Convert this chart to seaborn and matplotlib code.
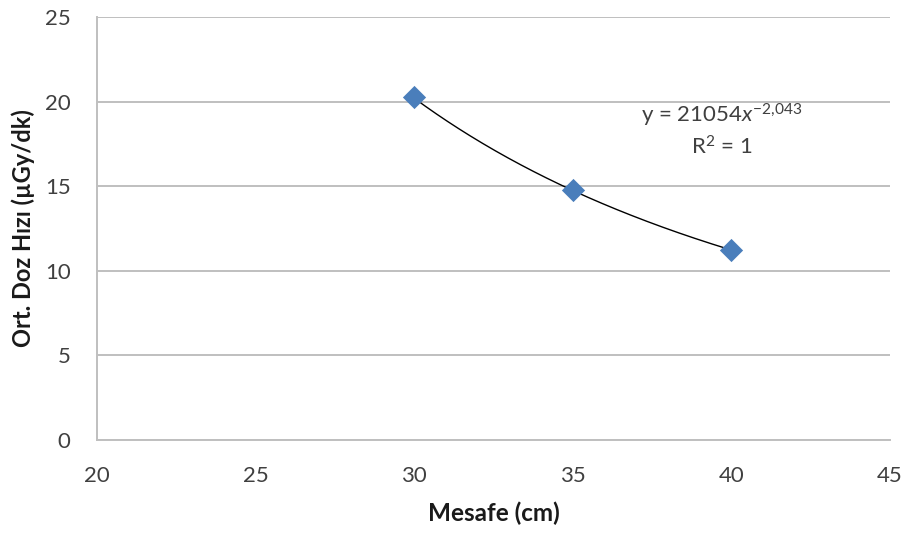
import numpy as np
import pandas as pd
import matplotlib
matplotlib.use("Agg")
import matplotlib.pyplot as plt
import seaborn as sns

# Measured dose rate versus distance
distance_cm = [30, 35, 40]
dose_rate = [20.25, 14.8, 11.25]

# Power-law trend: y = a * x^b
fit_a = 21054
fit_b = -2.043

x_ticks = [20, 25, 30, 35, 40, 45]
y_ticks = [0, 5, 10, 15, 20, 25]

sns.set_theme(style="white")
plt.rcParams["font.family"] = ["Lato", "DejaVu Sans"]
plt.rcParams["mathtext.fontset"] = "custom"
plt.rcParams["mathtext.rm"] = "Lato"
plt.rcParams["mathtext.it"] = "Lato:italic"

fig = plt.figure(figsize=(9.07, 5.37), dpi=100)
ax = fig.add_axes([0.107, 0.181, 0.874, 0.787])

df = pd.DataFrame({"Mesafe": distance_cm, "Doz": dose_rate})

xs = np.linspace(min(distance_cm), max(distance_cm), 200)
trend = pd.DataFrame({"x": xs, "y": fit_a * xs ** fit_b})
sns.lineplot(data=trend, x="x", y="y", ax=ax, color="black", lw=1.0, zorder=3)

sns.scatterplot(data=df, x="Mesafe", y="Doz", ax=ax, marker="D", s=140,
                color="#4a7ebb", edgecolor="#4a7ebb", linewidth=0, zorder=4)

ax.set_xlim(20, 45)
ax.set_ylim(0, 25)
ax.set_xticks(x_ticks)
ax.set_yticks(y_ticks)
ax.tick_params(axis="both", length=0, labelsize=16, labelcolor="#404040")
ax.tick_params(axis="x", pad=19)
ax.tick_params(axis="y", pad=19)

ax.yaxis.grid(True, color="#bfbfbf", lw=1.4)
ax.set_axisbelow(True)
for side in ("top", "right"):
    ax.spines[side].set_visible(False)
for side in ("left", "bottom"):
    ax.spines[side].set_color("#bfbfbf")
    ax.spines[side].set_linewidth(1.4)

ax.set_xlabel("Mesafe (cm)", fontsize=17.5, fontweight="bold", color="#1a1a1a", labelpad=11)
ax.set_ylabel("Ort. Doz Hızı (µGy/dk)", fontsize=17, fontweight="bold", color="#1a1a1a", labelpad=7)

ax.text(39.7, 19.2, r"y = 21054$\mathit{x}^{-2{,}043}$", fontsize=16,
        color="#404040", ha="center", va="center")
ax.text(39.7, 17.3, r"R$^{2}$ = 1", fontsize=16, color="#404040",
        ha="center", va="center")

fig.savefig("out.png", dpi=100)
